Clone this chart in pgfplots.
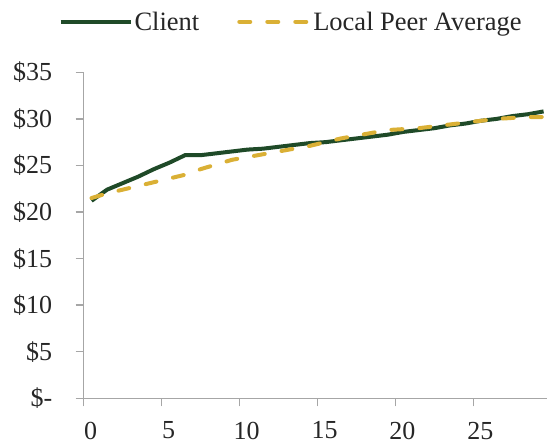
\documentclass[border=0pt]{standalone}
\usepackage{fontspec}
\setmainfont{Liberation Serif}
\usepackage{pgfplots}
\pgfplotsset{compat=1.18}
\definecolor{clientgreen}{HTML}{1F4A28}
\definecolor{peergold}{HTML}{DAB035}
\definecolor{axisgray}{HTML}{A6A6A6}

\pgfplotstableread{
x client peer
0.5 21.2 21.5
1.5 22.4 22.0
2.5 23.1 22.4
3.5 23.8 22.8
4.5 24.6 23.2
5.5 25.3 23.6
6.5 26.1 24.0
7.5 26.1 24.6
8.5 26.3 25.1
9.5 26.5 25.6
10.5 26.7 25.9
11.5 26.8 26.2
12.5 27.0 26.5
13.5 27.2 26.8
14.5 27.4 27.1
15.5 27.5 27.5
16.5 27.7 27.9
17.5 27.9 28.2
18.5 28.1 28.5
19.5 28.3 28.8
20.5 28.6 28.9
21.5 28.8 29.0
22.5 29.0 29.2
23.5 29.3 29.4
24.5 29.5 29.6
25.5 29.8 29.8
26.5 30.0 30.0
27.5 30.3 30.1
28.5 30.5 30.2
29.5 30.8 30.2
}\datatable

\begin{document}
\begin{tikzpicture}
\begin{axis}[
  at={(0pt,0pt)}, anchor=south west,
  scale only axis,
  width=463pt, height=326pt,
  xmin=0, xmax=29.7,
  ymin=0, ymax=35,
  axis lines=left,
  axis line style={-, draw=axisgray, line width=1.5pt},
  tick style={draw=axisgray, line width=1.5pt},
  tick align=outside,
  major tick length=8pt,
  xtick={0,5,10,15,20,25},
  ytick={0,5,10,15,20,25,30,35},
  yticklabels={\$-,\$5,\$10,\$15,\$20,\$25,\$30,\$35},
  /pgf/number format/assume math mode=true,
  tick label style={font=\fontsize{26}{28}\selectfont, text=black!85},
  yticklabel style={anchor=east, xshift=-20pt},
  xticklabel style={anchor=north, xshift=7pt, yshift=-12pt},
  clip=false,
  legend columns=2,
  legend style={draw=none, fill=none, at={(0.448,1.155)}, anchor=center,
    font=\fontsize{26.5}{28}\selectfont, text=black!85, inner sep=0pt,
    /tikz/every even column/.append style={column sep=36pt}},
  legend image code/.code={\draw[#1] (0pt,0pt) -- (70pt,0pt);},
]
\addplot[clientgreen, line width=4pt] table[x=x, y=client] {\datatable};
\addlegendentry{Client}
\addplot[peergold, line width=4pt, line cap=round, dash pattern=on 11pt off 17pt] table[x=x, y=peer] {\datatable};
\addlegendentry{Local Peer Average}
\end{axis}
\pgfresetboundingbox
\path (-83.7pt,-46.7pt) rectangle (463.3pt,398.3pt);
\end{tikzpicture}
\end{document}
